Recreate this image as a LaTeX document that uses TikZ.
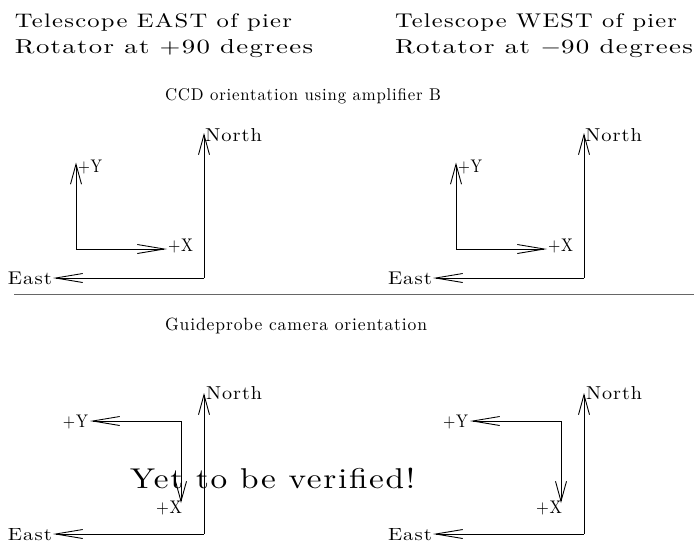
\documentclass[tikz,border=0pt]{standalone}
\usepackage{graphicx}
\usepackage{fontspec}
\setmainfont{Latin Modern Roman}[LetterSpace=5]
\usetikzlibrary{arrows.meta}

% set a text to a given width and height (in pt)
\newcommand\fitto[3]{\resizebox{#1pt}{#2pt}{#3}}

\tikzset{
  every node/.style={inner sep=0pt, outer sep=0pt},
  txt/.style={anchor=base west},
  axis/.style={line width=0.9pt, black},
  harrow/.style={axis, -{Straight Barb[length=27pt,width=9pt]}},
  varrow/.style={axis, -{Straight Barb[length=20pt,width=11pt]}},
  divider/.style={line width=1.2pt, black!60},
}

% CCD axes panel: #1 = x offset, #2 = name suffix
\newcommand\ccdpanel[2]{%
  \begin{scope}[xshift=#1pt]
    \coordinate (ccorner#2) at (204,278);
    \coordinate (cnorthtip#2) at (204,133);
    \coordinate (ceasttip#2) at (53,278);
    \coordinate (cxy#2) at (76,249);
    \coordinate (cytip#2) at (76,162.5);
    \coordinate (cxtip#2) at (167,249);
    \draw[varrow] (ccorner#2) -- (cnorthtip#2);
    \draw[harrow] (ccorner#2) -- (ceasttip#2);
    \draw[varrow] (cxy#2) -- (cytip#2);
    \draw[harrow] (cxy#2) -- (cxtip#2);
    \node[txt] (cnorth#2) at (205,141.7) {\fitto{57}{13}{North}};
    \node[txt] (ceast#2) at (8,284) {\fitto{44}{12.5}{East}};
    \node[txt] (cy#2) at (78,172) {\fitto{24}{12.5}{+Y}};
    \node[txt] (cx#2) at (168,251) {\fitto{25}{12.5}{+X}};
  \end{scope}}

% guide probe axes panel: #1 = x offset, #2 = name suffix
\newcommand\guidepanel[2]{%
  \begin{scope}[xshift=#1pt]
    \coordinate (gcorner#2) at (204,534);
    \coordinate (gnorthtip#2) at (204,393);
    \coordinate (geasttip#2) at (53,534);
    \coordinate (gxy#2) at (181,421);
    \coordinate (gytip#2) at (90,421);
    \coordinate (gxtip#2) at (181,503);
    \draw[varrow] (gcorner#2) -- (gnorthtip#2);
    \draw[harrow] (gcorner#2) -- (geasttip#2);
    \draw[harrow] (gxy#2) -- (gytip#2);
    \draw[varrow] (gxy#2) -- (gxtip#2);
    \node[txt] (gnorth#2) at (206,399) {\fitto{56}{13}{North}};
    \node[txt] (geast#2) at (8,540) {\fitto{44}{12}{East}};
    \node[txt] (gy#2) at (63,427) {\fitto{25}{12.5}{+Y}};
    \node[txt] (gx#2) at (156,513) {\fitto{26}{12.5}{+X}};
  \end{scope}}

\begin{document}
\begin{tikzpicture}[x=1pt, y=-1pt]
  \useasboundingbox (0,0) rectangle (694,543);

  % headings
  \node[txt] (eastpier) at (15,28) {\fitto{277}{14}{Telescope EAST of pier}};
  \node[txt] (eastrot) at (15,54) {\fitto{298}{14}{Rotator at +90 degrees}};
  \node[txt] (westpier) at (395,28) {\fitto{282}{14}{Telescope WEST of pier}};
  \node[txt] (westrot) at (395,54) {\fitto{298}{14}{Rotator at $-$90 degrees}};

  % CCD section
  \node[txt] (ccdtitle) at (165,100) {\fitto{276}{12}{CCD orientation using amplifier B}};
  \ccdpanel{0}{L}
  \ccdpanel{380}{R}

  % separator
  \coordinate (dl) at (14,294.5);
  \coordinate (dr) at (694,294.5);
  \draw[divider] (dl) -- (dr);

  % guide probe section
  \node[txt] (guidetitle) at (165,330) {\fitto{262}{12.5}{Guideprobe camera orientation}};
  \guidepanel{0}{L}
  \guidepanel{380}{R}

  \node[txt] (notice) at (130,488) {\fitto{285}{20.5}{Yet to be verified!}};
\end{tikzpicture}
\end{document}
